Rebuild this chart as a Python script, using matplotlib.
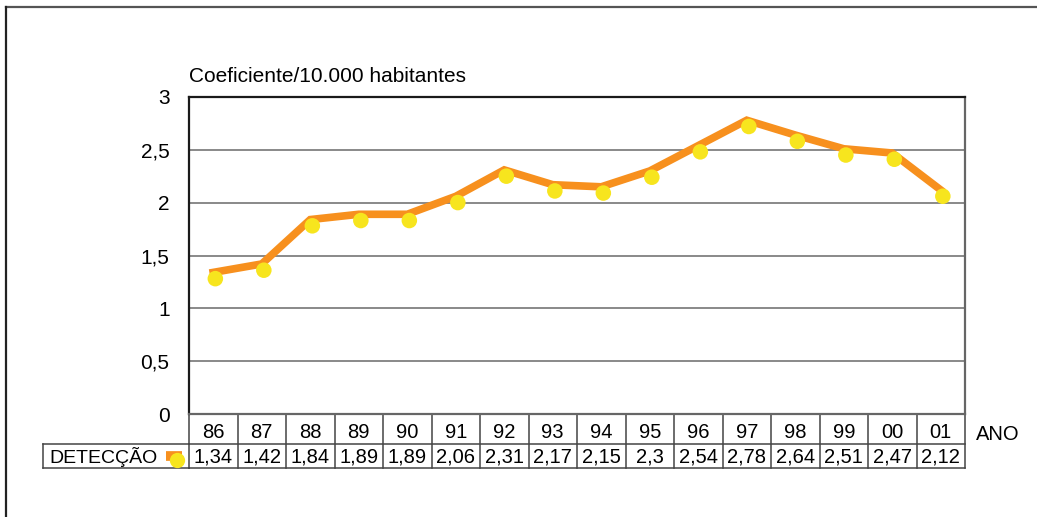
import numpy as np
import matplotlib
matplotlib.use("Agg")
import matplotlib.pyplot as plt
from matplotlib.lines import Line2D
import matplotlib.transforms as mtransforms

anos = ["86", "87", "88", "89", "90", "91", "92", "93", "94", "95", "96", "97", "98", "99", "00", "01"]
deteccao = [1.34, 1.42, 1.84, 1.89, 1.89, 2.06, 2.31, 2.17, 2.15, 2.3, 2.54, 2.78, 2.64, 2.51, 2.47, 2.12]
etiquetas = ["1,34", "1,42", "1,84", "1,89", "1,89", "2,06", "2,31", "2,17", "2,15", "2,3",
             "2,54", "2,78", "2,64", "2,51", "2,47", "2,12"]

W, H = 1037, 517
LARANJA = "#f7901e"
AMARELO = "#f7e51e"
FS = 14.5
plt.rcParams["font.family"] = ["Liberation Sans", "DejaVu Sans"]

fig = plt.figure(figsize=(W / 100, H / 100), dpi=100)

def fx(px):
    return px / W

def fy(py):
    return 1 - py / H

# moldura externa (topo e esquerda)
fig.add_artist(Line2D([fx(6), 1], [fy(7), fy(7)], color="#555555", lw=1.6))
fig.add_artist(Line2D([fx(6), fx(6)], [fy(7), 0], color="#222222", lw=1.6))

left, right, top, bottom = 189, 965, 97, 414
ax = fig.add_axes([fx(left), fy(bottom), fx(right - left), (bottom - top) / H])

x = np.arange(len(anos))
ax.plot(x, deteccao, color=LARANJA, lw=5.5, solid_joinstyle="miter", zorder=3)
offset = mtransforms.offset_copy(ax.transData, fig=fig, x=1.5, y=-4.5, units="points")
ax.scatter(x, deteccao, s=125, color=AMARELO, edgecolors="none", zorder=4, transform=offset)

ax.set_xlim(-0.5, len(anos) - 0.5)
ax.set_ylim(0, 3)
ax.set_yticks(np.arange(0, 3.01, 0.5))
ax.set_yticklabels(["0", "0,5", "1", "1,5", "2", "2,5", "3"], fontsize=15)
ax.tick_params(axis="y", length=0, pad=14)
ax.set_xticks([])
ax.grid(axis="y", color="#808080", lw=1.3)
ax.set_axisbelow(True)
for s in ["left", "top"]:
    ax.spines[s].set_color("#1a1a1a")
    ax.spines[s].set_linewidth(1.6)
for s in ["right", "bottom"]:
    ax.spines[s].set_color("#666666")
    ax.spines[s].set_linewidth(1.6)

ax.text(0, 1.035, "Coeficiente/10.000 habitantes", transform=ax.transAxes,
        fontsize=15, ha="left", va="bottom")

# tabela de dados abaixo do gráfico
trans = mtransforms.blended_transform_factory(ax.transData, ax.transAxes)
ah = bottom - top

def ay(py):
    return (bottom - py) / ah

row1, row2 = 444, 468
lc = "#444444"
for i in range(len(anos) + 1):
    ax.add_line(Line2D([i - 0.5, i - 0.5], [ay(bottom), ay(row2)], transform=trans,
                       color=lc, lw=1.1, clip_on=False))
for py in [row1, row2]:
    ax.add_line(Line2D([-0.5, len(anos) - 0.5], [ay(py), ay(py)], transform=trans,
                       color=lc, lw=1.1, clip_on=False))
    fig.add_artist(Line2D([fx(43), fx(left)], [fy(py), fy(py)], color=lc, lw=1.1))
fig.add_artist(Line2D([fx(43), fx(43)], [fy(row1), fy(row2)], color=lc, lw=1.1))

for i, (a, e) in enumerate(zip(anos, etiquetas)):
    ax.text(i, ay(433), a, transform=trans, ha="center", va="center", fontsize=FS)
    ax.text(i, ay(457), e, transform=trans, ha="center", va="center", fontsize=FS)

fig.text(fx(49), fy(457), "DETECÇÃO", ha="left", va="center", fontsize=14)
fig.text(fx(976), fy(434), "ANO", ha="left", va="center", fontsize=FS)
fig.add_artist(Line2D([fx(166), fx(182)], [fy(456), fy(456)], color=LARANJA, lw=7,
                      solid_capstyle="butt"))
fig.add_artist(Line2D([fx(177)], [fy(460)], marker="o", ms=11, color=AMARELO, mec="none"))

fig.savefig("out.png", dpi=100)
